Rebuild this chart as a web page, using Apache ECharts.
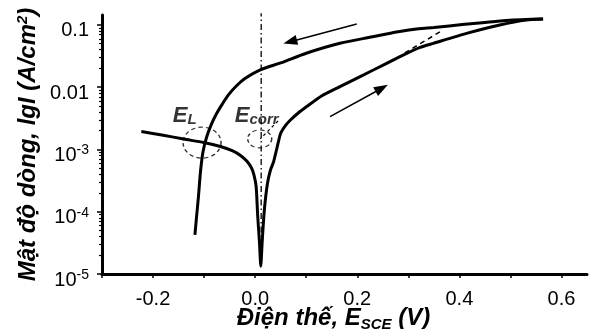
<!DOCTYPE html>
<html>
<head>
<meta charset="utf-8">
<script src="https://cdn.jsdelivr.net/npm/echarts@6/dist/echarts.min.js"></script>
<style>
  html, body { margin: 0; padding: 0; background: #fff; }
  #chart { width: 594px; height: 329px; }
</style>
</head>
<body>
<div id="chart"></div>
<script>
// potential E (V vs SCE) and lgI (I in A/cm2)
const forwardE = [-0.223, -0.18, -0.14, -0.101, -0.068, -0.045, -0.028, -0.016, -0.007, -0.002, 0.002, 0.005, 0.0085, 0.011,
  0.014, 0.018, 0.024, 0.030, 0.036, 0.044, 0.050, 0.060, 0.0686, 0.085, 0.101, 0.13, 0.166, 0.2315, 0.2836, 0.323, 0.349,
  0.414, 0.479, 0.531, 0.564];
const forwardLgI = [-2.712, -2.77, -2.833, -2.888, -2.952, -3.02, -3.10, -3.19, -3.30, -3.42, -3.60, -4.07, -4.50, -4.875,
  -4.45, -3.97, -3.55, -3.33, -3.20, -2.93, -2.74, -2.61, -2.53, -2.41, -2.31, -2.14, -1.99, -1.723, -1.509, -1.36, -1.295,
  -1.135, -1.0, -0.92, -0.905];
const reverseE = [0.564, 0.54, 0.48, 0.41, 0.35, 0.32, 0.28, 0.23, 0.166, 0.10, 0.05, 0.01, -0.02, -0.037, -0.052, -0.065,
  -0.076, -0.086, -0.095, -0.102, -0.107, -0.111, -0.115, -0.118];
const reverseLgI = [-0.905, -0.908, -0.935, -0.99, -1.04, -1.06, -1.11, -1.19, -1.295, -1.455, -1.61, -1.72, -1.86, -1.98,
  -2.12, -2.28, -2.43, -2.60, -2.80, -3.03, -3.35, -3.75, -4.10, -4.37];
const tafelE = [0.293, 0.362];
const tafelLgI = [-1.45, -1.11];
const ecorrE = 0.0118;
const ecorrLgI = [-4.55, -0.81];
const leaderE = [0.045, 0.010];
const leaderLgI = [-2.54, -2.83];
// scan direction arrows: [from, to]
const arrowBack = [[0.199, -0.986], [0.0686, -1.269]];
const arrowFwd = [[0.1467, -2.471], [0.248, -2.016]];
// dashed rings around E_L and E_corr
const ringE = [-0.104, 0.0089];
const ringLgI = [-2.89, -2.83];
const ringSize = [[38, 31], [24, 18]];
// text label anchors (left-bottom)
const noteE = [-0.1603, -0.039];
const noteLgI = [-2.66, -2.66];
const noteSub = ['L', 'corr'];

const xTicks = [-0.3, -0.2, -0.1, 0, 0.1, 0.2, 0.3, 0.4, 0.5, 0.6];
const xLabels = [-0.2, 0, 0.2, 0.4, 0.6];
const yDecades = [-5, -4, -3, -2, -1];
const yMinor = [];
for (let n = -5; n <= -2; n++) for (let k = 2; k <= 9; k++) yMinor.push(n + Math.log10(k));

const pairs = (xs, ys) => xs.map((x, i) => [x, ys[i]]);
const font = 'Liberation Sans';
const black = '#000';

const myChart = echarts.init(document.getElementById('chart'));
myChart.setOption({
  animation: false,
  grid: { left: 102, right: 7, top: 15, bottom: 55, outerBoundsMode: 'none' },
  xAxis: {
    type: 'value',
    min: -0.3,
    max: 0.65,
    interval: 0.1,
    splitLine: { show: false },
    axisLine: { onZero: false, lineStyle: { color: black, width: 3 } },
    axisTick: { customValues: xTicks, length: 4, lineStyle: { color: black, width: 1.5 } },
    axisLabel: {
      customValues: xLabels,
      formatter: v => v.toFixed(1),
      margin: 14,
      color: black,
      fontFamily: font,
      fontSize: 20,
      lineHeight: 22
    },
    name: '{n|Điện thế, }{n|E}{s|SCE}{n| (V)}',
    nameLocation: 'middle',
    nameGap: 31,
    nameMoveOverlap: false,
    nameTextStyle: {
      padding: [0, 22, 0, 0],
      rich: {
        n: { fontFamily: font, fontSize: 24, fontWeight: 'bold', fontStyle: 'italic', color: black, lineHeight: 27 },
        s: { fontFamily: font, fontSize: 15, fontWeight: 'bold', fontStyle: 'italic', color: black, verticalAlign: 'bottom', lineHeight: 27 }
      }
    }
  },
  yAxis: [{
    type: 'value',
    position: 'left',
    min: -5,
    max: -0.84,
    interval: 1,
    splitLine: { show: false },
    axisLine: { onZero: false, lineStyle: { color: black, width: 3 } },
    axisTick: { customValues: yDecades, length: 5, lineStyle: { color: black, width: 1.5 } },
    axisLabel: {
      customValues: yDecades,
      margin: 13,
      padding: [12, 0, 0, 0],
      formatter: v => v === -1 ? '{m|0.1}' : v === -2 ? '{m|0.01}' : '{m|10}{p|' + v + '}',
      rich: {
        m: { fontFamily: font, fontSize: 20, color: black, lineHeight: 24 },
        p: { fontFamily: font, fontSize: 14, color: black, verticalAlign: 'top', lineHeight: 24 }
      }
    },
    name: '{n|Mật độ dòng, lgI (A/cm}{p|2}{n|)}',
    nameLocation: 'middle',
    nameGap: 60,
    nameMoveOverlap: false,
    nameTextStyle: {
      rich: {
        n: { fontFamily: font, fontSize: 24, fontWeight: 'bold', fontStyle: 'italic', color: black, lineHeight: 27 },
        p: { fontFamily: font, fontSize: 15, fontWeight: 'bold', fontStyle: 'italic', color: black, verticalAlign: 'top', lineHeight: 27 }
      }
    }
  }, {
    type: 'value',
    position: 'left',
    min: -5,
    max: -0.84,
    interval: 1,
    splitLine: { show: false },
    axisLine: { show: false, onZero: false },
    axisLabel: { show: false },
    axisTick: { customValues: yMinor, length: 3, lineStyle: { color: black, width: 1.2 } }
  }],
  series: [
    {
      name: 'forward', type: 'line', data: pairs(forwardE, forwardLgI),
      symbol: 'none', smooth: 0.2, lineStyle: { color: black, width: 3 }
    },
    {
      name: 'reverse', type: 'line', data: pairs(reverseE, reverseLgI),
      symbol: 'none', smooth: 0.3, lineStyle: { color: black, width: 3 }
    },
    {
      name: 'tafel', type: 'line', data: pairs(tafelE, tafelLgI),
      symbol: 'none', lineStyle: { color: black, width: 1.5, type: [5, 4] }
    },
    {
      name: 'Ecorr', type: 'line', data: [[ecorrE, ecorrLgI[0]], [ecorrE, ecorrLgI[1]]],
      symbol: 'none', clip: false, lineStyle: { color: black, width: 1.3, type: [6, 3, 1.5, 3] }
    },
    {
      name: 'leader', type: 'line', data: pairs(leaderE, leaderLgI),
      symbol: 'none', lineStyle: { color: black, width: 1.2, type: [3, 3] }
    },
    {
      name: 'arrows', type: 'line', data: [],
      markLine: {
        silent: true,
        symbol: ['none', 'triangle'],
        symbolSize: [10, 14],
        label: { show: false },
        lineStyle: { color: black, width: 1.5, type: 'solid' },
        data: [
          [{ coord: arrowBack[0] }, { coord: arrowBack[1] }],
          [{ coord: arrowFwd[0] }, { coord: arrowFwd[1] }]
        ]
      }
    },
    {
      name: 'rings', type: 'scatter',
      data: pairs(ringE, ringLgI).map((p, i) => ({ value: p, symbolSize: ringSize[i] })),
      itemStyle: { color: 'rgba(0,0,0,0)', borderColor: black, borderWidth: 1.3, borderType: [4, 3] }
    },
    {
      name: 'notes', type: 'scatter', symbolSize: 1,
      itemStyle: { color: 'rgba(0,0,0,0)' },
      data: pairs(noteE, noteLgI).map((p, i) => ({ value: p, label: { formatter: '{e|E}{s|' + noteSub[i] + '}' } })),
      label: {
        show: true,
        position: [0, 0],
        align: 'left',
        verticalAlign: 'bottom',
        rich: {
          e: { fontFamily: font, fontSize: 22, fontWeight: 'bold', fontStyle: 'italic', color: black, lineHeight: 24 },
          s: { fontFamily: font, fontSize: 15, fontWeight: 'bold', fontStyle: 'italic', color: black, verticalAlign: 'bottom', lineHeight: 24 }
        }
      }
    }
  ]
});
</script>
</body>
</html>
